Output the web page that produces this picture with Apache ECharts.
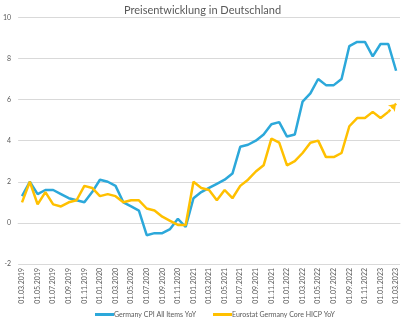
<!DOCTYPE html>
<html><head><meta charset="utf-8">
<script src="https://cdn.jsdelivr.net/npm/echarts@6/dist/echarts.min.js"></script>
<style>html,body{margin:0;padding:0;background:#fff}#c{width:405px;height:326px}</style>
</head><body><div id="c"></div>
<script>
var categories = ['01.03.2019','01.04.2019','01.05.2019','01.06.2019','01.07.2019','01.08.2019','01.09.2019','01.10.2019','01.11.2019','01.12.2019',
'01.01.2020','01.02.2020','01.03.2020','01.04.2020','01.05.2020','01.06.2020','01.07.2020','01.08.2020','01.09.2020','01.10.2020','01.11.2020','01.12.2020',
'01.01.2021','01.02.2021','01.03.2021','01.04.2021','01.05.2021','01.06.2021','01.07.2021','01.08.2021','01.09.2021','01.10.2021','01.11.2021','01.12.2021',
'01.01.2022','01.02.2022','01.03.2022','01.04.2022','01.05.2022','01.06.2022','01.07.2022','01.08.2022','01.09.2022','01.10.2022','01.11.2022','01.12.2022',
'01.01.2023','01.02.2023','01.03.2023'];
var cpiAllItems = [1.3,2.0,1.4,1.6,1.6,1.4,1.2,1.1,1.0,1.5,
2.1,2.0,1.8,1.0,0.8,0.6,-0.6,-0.5,-0.5,-0.3,0.2,-0.2,
1.2,1.5,1.7,1.9,2.1,2.4,3.7,3.8,4.0,4.3,4.8,4.9,
4.2,4.3,5.9,6.3,7.0,6.7,6.7,7.0,8.6,8.8,8.8,8.1,
8.7,8.7,7.4];
var coreHicp = [1.0,2.0,0.9,1.5,0.9,0.8,1.0,1.1,1.8,1.7,
1.3,1.4,1.3,1.0,1.1,1.1,0.7,0.6,0.3,0.1,-0.1,-0.1,
2.0,1.7,1.6,1.1,1.6,1.2,1.8,2.1,2.5,2.8,4.1,3.9,
2.8,3.0,3.4,3.9,4.0,3.2,3.2,3.4,4.7,5.1,5.1,5.4,
5.1,5.4,null];
var coreTrendEnd = 5.8;
var yTicks = {min:-2, max:10, interval:2};
var titleText = 'Preisentwicklung in Deutschland';
var seriesNames = ['Germany CPI All Items YoY','Eurostat Germany Core HICP YoY'];

var FONT = 'Lato, "Open Sans", sans-serif';
var chart = echarts.init(document.getElementById('c'), null, {renderer:'canvas'});
var lastIdx = coreHicp.length - 2;
chart.setOption({
  animation:false,
  textStyle:{fontFamily:FONT},
  title:{text:titleText,left:'center',top:0,textStyle:{fontFamily:FONT,fontSize:11,fontWeight:'normal',color:'#595959'}},
  grid:{left:17,right:5,top:17.3,bottom:62},
  legend:{bottom:3,left:90,itemWidth:19,itemHeight:3,itemGap:17,icon:'rect',
    textStyle:{fontFamily:FONT,fontSize:7,color:'#595959',padding:[0,0,0,-5]},
    data:seriesNames},
  xAxis:{type:'category',data:categories,boundaryGap:true,
    axisLine:{lineStyle:{color:'#d9d9d9'}},
    axisTick:{interval:1,length:4,lineStyle:{color:'#d9d9d9'}},
    axisLabel:{interval:1,rotate:90,fontSize:7,color:'#595959',margin:4,fontFamily:FONT}},
  yAxis:{type:'value',min:yTicks.min,max:yTicks.max,interval:yTicks.interval,
    axisLine:{show:false},axisTick:{show:false},
    axisLabel:{fontSize:7,color:'#595959',margin:7,fontFamily:FONT},
    splitLine:{lineStyle:{color:'#d9d9d9',width:1}}},
  series:[
    {name:seriesNames[0],type:'line',data:cpiAllItems,symbol:'none',
      lineStyle:{color:'#2CA8DA',width:2.5},itemStyle:{color:'#2CA8DA'}},
    {name:seriesNames[1],type:'line',data:coreHicp,symbol:'none',
      lineStyle:{color:'#FFC000',width:2.5},itemStyle:{color:'#FFC000'},
      markLine:{silent:true,symbol:['none','arrow'],symbolSize:7,label:{show:false},
        lineStyle:{type:[3,2],color:'#FFC000',width:2.5},
        data:[[{coord:[categories[lastIdx],coreHicp[lastIdx]]},{coord:[categories[lastIdx+1],coreTrendEnd]}]]}}
  ]
});
</script></body></html>
